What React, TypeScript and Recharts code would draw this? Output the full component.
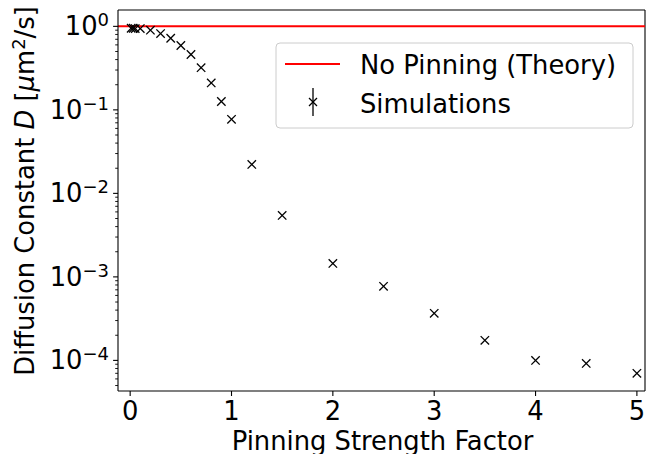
import React from "react";
import {
  ScatterChart,
  Scatter,
  XAxis,
  YAxis,
  ReferenceLine,
} from "recharts";

// pinning strength factor vs measured diffusion constant (um^2/s)
const pinning = [
  0.01, 0.03, 0.05, 0.1, 0.2, 0.3, 0.4, 0.5, 0.6, 0.7, 0.8, 0.9, 1.0, 1.2,
  1.5, 2.0, 2.5, 3.0, 3.5, 4.0, 4.5, 5.0,
];
const diffusion = [
  0.95, 0.95, 0.94, 0.94, 0.9, 0.82, 0.72, 0.59, 0.46, 0.32, 0.21, 0.126,
  0.077, 0.0222, 0.00545, 0.00145, 0.00077, 0.000366, 0.000174, 0.0001,
  0.000092, 0.00007,
];
const theoryD = 1.0;

const xTicks = [0, 1, 2, 3, 4, 5];

const X_DOMAIN: [number, number] = [-0.12, 5.08];
const Y_DOMAIN: [number, number] = [4.3e-5, 1.57];

// log ticks: majors + 2..9 minors, only inside the domain
const yTicks: number[] = [];
for (let e = -5; e <= 0; e++) {
  for (let m = 1; m <= 9; m++) {
    const v = m * Math.pow(10, e);
    if (v >= Y_DOMAIN[0] && v <= Y_DOMAIN[1]) yTicks.push(v);
  }
}

const points = pinning.map((x, i) => ({ x, d: diffusion[i] }));

const FONT = "DejaVu Sans";
const FS = 25.8;
const SUP = 18;
const MINUS = "\u2212";

const Cross = (props: any) => {
  const { cx, cy } = props;
  const r = 4.2;
  return (
    <g stroke="#000" strokeWidth={1.3}>
      <line x1={cx - r} y1={cy - r} x2={cx + r} y2={cy + r} />
      <line x1={cx - r} y1={cy + r} x2={cx + r} y2={cy - r} />
    </g>
  );
};

const YTick = (props: any) => {
  const { x, y, payload } = props;
  const exp = Math.log10(payload.value);
  const major = Math.abs(exp - Math.round(exp)) < 1e-6;
  if (!major) {
    return <line x1={x - 2.8} y1={y} x2={x} y2={y} stroke="#000" strokeWidth={0.9} />;
  }
  const e = Math.round(exp);
  const label = e < 0 ? MINUS + String(-e) : String(e);
  return (
    <g>
      <line x1={x - 4.9} y1={y} x2={x} y2={y} stroke="#000" strokeWidth={1.1} />
      <text
        x={x - 9}
        y={y + 9}
        textAnchor="end"
        fontFamily={FONT}
        fontSize={FS}
        fill="#000"
      >
        <tspan>10</tspan>
        <tspan dy={-9.3} fontSize={SUP}>
          {label}
        </tspan>
      </text>
    </g>
  );
};

const XTick = (props: any) => {
  const { x, y, payload } = props;
  return (
    <text
      x={x}
      y={y + 24}
      textAnchor="middle"
      fontFamily={FONT}
      fontSize={FS}
      fill="#000"
    >
      {payload.value}
    </text>
  );
};

const XLabel = (props: any) => {
  const vb = props.viewBox || {};
  const cx = (vb.x ?? 118) + (vb.width ?? 527) / 2 + 1;
  return (
    <text x={cx} y={450} textAnchor="middle" fontFamily={FONT} fontSize={FS} fill="#000">
      Pinning Strength Factor
    </text>
  );
};

const YLabel = () => {
  const x = 34;
  const y = 191;
  return (
    <text
      x={x}
      y={y}
      transform={`rotate(-90, ${x}, ${y})`}
      textAnchor="middle"
      fontFamily={FONT}
      fontSize={FS}
      fill="#000"
    >
      <tspan>Diffusion Constant </tspan>
      <tspan fontStyle="italic">D</tspan>
      <tspan> [</tspan>
      <tspan fontStyle="italic">μ</tspan>
      <tspan>m</tspan>
      <tspan dy={-9.3} fontSize={SUP}>2</tspan>
      <tspan dy={9.3}>/s]</tspan>
    </text>
  );
};

const LegendBox = () => (
  <svg
    width={360}
    height={90}
    style={{ position: "absolute", left: 275, top: 42 }}
  >
    <rect
      x={1}
      y={1}
      width={357}
      height={85}
      rx={4}
      ry={4}
      fill="rgba(255,255,255,0.8)"
      stroke="#cccccc"
      strokeWidth={1}
    />
    <line x1={10} y1={22} x2={65} y2={22} stroke="#ff0000" strokeWidth={2} />
    <text x={85} y={32} fontFamily={FONT} fontSize={FS} fill="#000">
      No Pinning (Theory)
    </text>
    <g stroke="#000" strokeWidth={1.3}>
      <line x1={38} y1={46} x2={38} y2={74} />
      <line x1={34} y1={56} x2={42} y2={64} />
      <line x1={34} y1={64} x2={42} y2={56} />
    </g>
    <text x={85} y={71} fontFamily={FONT} fontSize={FS} fill="#000">
      Simulations
    </text>
  </svg>
);

export default function App() {
  return (
    <div style={{ position: "absolute", left: 0, top: 0, width: 646, height: 454, background: "#fff" }}>
      <ScatterChart
        width={646}
        height={454}
        margin={{ top: 10, right: 1, bottom: 0, left: 0 }}
      >
        <XAxis
          type="number"
          dataKey="x"
          domain={X_DOMAIN}
          allowDataOverflow
          ticks={xTicks}
          interval={0}
          height={63}
          tickSize={5}
          tickMargin={0}
          tick={<XTick />}
          tickLine={{ stroke: "#000", strokeWidth: 1.1 }}
          axisLine={{ stroke: "#000", strokeWidth: 1.1 }}
          label={<XLabel />}
        />
        <YAxis
          type="number"
          dataKey="d"
          scale="log"
          domain={Y_DOMAIN}
          allowDataOverflow
          ticks={yTicks}
          interval={0}
          width={118}
          tickSize={0}
          tickMargin={0}
          tickLine={false}
          tick={<YTick />}
          axisLine={{ stroke: "#000", strokeWidth: 1.1 }}
          label={<YLabel />}
        />
        <ReferenceLine y={Y_DOMAIN[1]} stroke="#000" strokeWidth={1.1} />
        <ReferenceLine x={X_DOMAIN[1]} stroke="#000" strokeWidth={1.1} />
        <ReferenceLine y={theoryD} stroke="#ff0000" strokeWidth={2} />
        <Scatter
          data={points}
          shape={<Cross />}
          isAnimationActive={false}
        />
      </ScatterChart>
      <LegendBox />
    </div>
  );
}
